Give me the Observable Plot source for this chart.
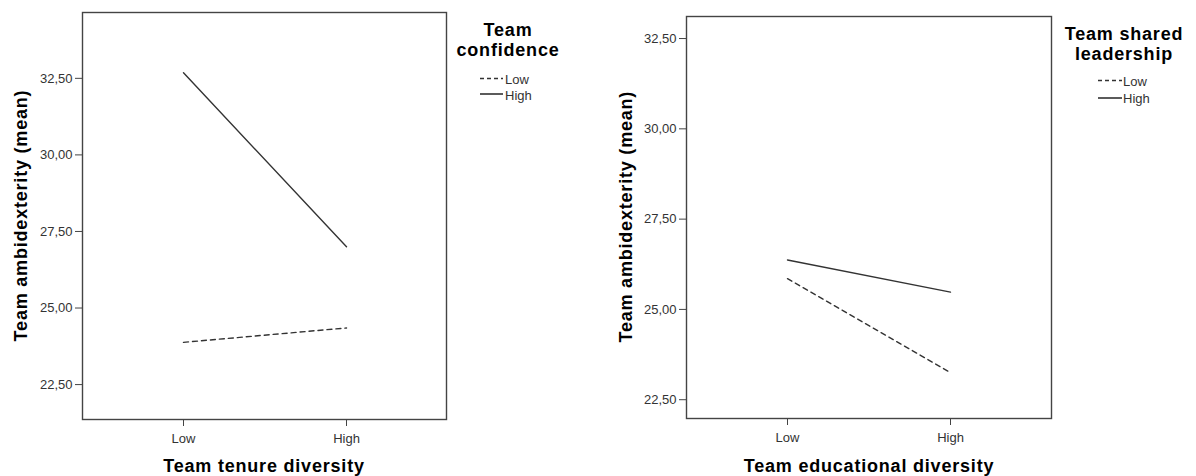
<!DOCTYPE html>
<html>
<head>
<meta charset="utf-8">
<script src="https://cdn.jsdelivr.net/npm/d3@7"></script>
<script src="https://cdn.jsdelivr.net/npm/@observablehq/plot@0.6"></script>
<style>
  body { margin: 0; background: #fff; }
  #wrap { position: relative; width: 1196px; height: 476px; overflow: hidden; font-family: "Liberation Sans", Arial, sans-serif; }
  #wrap > svg.plot, #wrap > div.p { position: absolute; top: 0; }
  #overlay { position: absolute; left: 0; top: 0; pointer-events: none; }
</style>
</head>
<body>
<div id="wrap"></div>
<script>
// ---- data ----
const levels = ["Low", "High"];
const yTicks = [22.5, 25, 27.5, 30, 32.5];

const leftXTitle = "Team tenure diversity";
const leftLegendTitle = ["Team", "confidence"];
const tenureLowConf = [23.88, 24.35];
const tenureHighConf = [32.68, 27.0];

const rightXTitle = "Team educational diversity";
const rightLegendTitle = ["Team shared", "leadership"];
const eduLowLead = [25.85, 23.25];
const eduHighLead = [26.37, 25.48];

const yTitle = "Team ambidexterity (mean)";
const seriesNames = ["Low", "High"];

const ink = "#333";
const fmt = d => d.toFixed(2).replace(".", ",");
const rows = vals => levels.map((l, i) => ({x: l, y: vals[i]}));

function panel({left, width, mL, mR, mT, mB, domain, low, high}) {
  const chart = Plot.plot({
    width, height: 476,
    marginLeft: mL, marginRight: mR, marginTop: mT, marginBottom: mB,
    style: {fontFamily: '"Liberation Sans", Arial, sans-serif', fontSize: "13px", color: ink, background: "transparent"},
    x: {type: "point", domain: levels, padding: 0.613},
    y: {domain},
    marks: [
      Plot.axisY(yTicks, {tickFormat: fmt, tickSize: 7, tickPadding: 3, label: null, stroke: "#444", fill: ink}),
      Plot.axisX(levels, {tickSize: 7, tickPadding: 7, label: null, stroke: "#444", fill: ink}),
      Plot.frame({stroke: "#444", strokeWidth: 1.4}),
      Plot.line(rows(low), {x: "x", y: "y", stroke: ink, strokeWidth: 1.4, strokeDasharray: "5,4"}),
      Plot.line(rows(high), {x: "x", y: "y", stroke: ink, strokeWidth: 1.4})
    ]
  });
  chart.classList.add("plot");
  chart.style.left = left + "px";
  return chart;
}

const wrap = document.getElementById("wrap");
wrap.appendChild(panel({left: 0, width: 600, mL: 82, mR: 154, mT: 12, mB: 57,
  domain: [21.36, 34.65], low: tenureLowConf, high: tenureHighConf}));
wrap.appendChild(panel({left: 600, width: 596, mL: 86, mR: 145, mT: 16, mB: 58,
  domain: [21.98, 33.11], low: eduLowLead, high: eduHighLead}));

// ---- overlay: titles and legends ----
const ns = "http://www.w3.org/2000/svg";
const ov = document.createElementNS(ns, "svg");
ov.setAttribute("id", "overlay");
ov.setAttribute("width", 1196);
ov.setAttribute("height", 476);
wrap.appendChild(ov);

function txt(str, x, y, opts = {}) {
  const t = document.createElementNS(ns, "text");
  t.textContent = str;
  t.setAttribute("x", x);
  t.setAttribute("y", y);
  t.setAttribute("font-family", '"Liberation Sans", Arial, sans-serif');
  t.setAttribute("font-size", opts.size || 13);
  t.setAttribute("fill", opts.fill || ink);
  if (opts.bold) { t.setAttribute("font-weight", "bold"); t.setAttribute("letter-spacing", "0.8"); t.setAttribute("fill", "#000"); }
  t.setAttribute("text-anchor", opts.anchor || "start");
  if (opts.rotate) t.setAttribute("transform", `rotate(-90 ${x} ${y})`);
  ov.appendChild(t);
  return t;
}
function seg(x1, x2, y, dash) {
  const l = document.createElementNS(ns, "line");
  l.setAttribute("x1", x1); l.setAttribute("x2", x2);
  l.setAttribute("y1", y); l.setAttribute("y2", y);
  l.setAttribute("stroke", ink); l.setAttribute("stroke-width", 1.6);
  if (dash) l.setAttribute("stroke-dasharray", dash);
  ov.appendChild(l);
}

// left
txt(yTitle, 27, 215.5, {size: 18, bold: true, anchor: "middle", rotate: true});
txt(leftXTitle, 264, 472, {size: 18, bold: true, anchor: "middle"});
txt(leftLegendTitle[0], 508, 36, {size: 18, bold: true, anchor: "middle"});
txt(leftLegendTitle[1], 508, 56, {size: 18, bold: true, anchor: "middle"});
seg(480, 503, 78.5, "4,3");
txt(seriesNames[0], 505, 83.5);
seg(480, 503, 94, null);
txt(seriesNames[1], 505, 100);

// right
txt(yTitle, 632, 216.7, {size: 18, bold: true, anchor: "middle", rotate: true});
txt(rightXTitle, 869, 472, {size: 18, bold: true, anchor: "middle"});
txt(rightLegendTitle[0], 1124, 39.5, {size: 18, bold: true, anchor: "middle"});
txt(rightLegendTitle[1], 1124, 59.5, {size: 18, bold: true, anchor: "middle"});
seg(1098, 1122, 80.5, "4,3");
txt(seriesNames[0], 1123, 86);
seg(1098, 1122, 98, null);
txt(seriesNames[1], 1123, 103);
</script>
</body>
</html>
